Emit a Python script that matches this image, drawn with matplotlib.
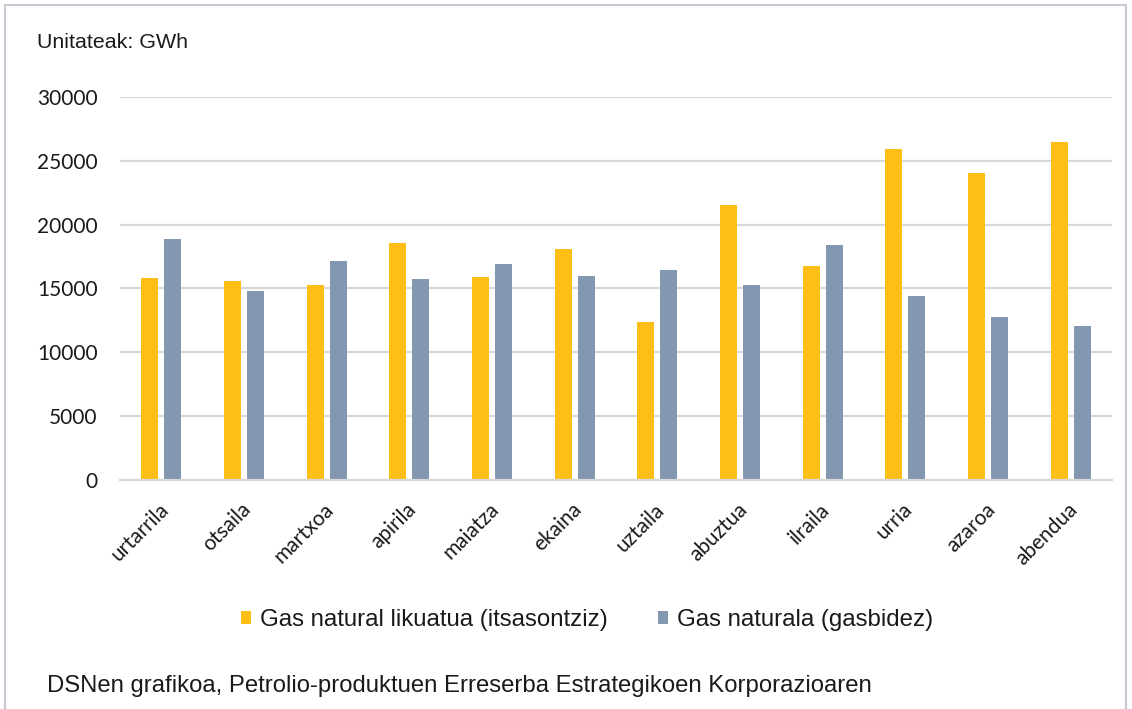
"""Monthly natural gas imports by route (GWh)."""

import matplotlib

matplotlib.use("Agg")
import matplotlib.pyplot as plt  # noqa: E402
import matplotlib.transforms as mtransforms  # noqa: E402
import numpy as np  # noqa: E402
from matplotlib.patches import Rectangle  # noqa: E402

MONTHS = [
    "urtarrila", "otsaila", "martxoa", "apirila", "maiatza", "ekaina",
    "uztaila", "abuztua", "ilraila", "urria", "azaroa", "abendua",
]
LNG_SHIP = [15800, 15600, 15300, 18600, 15900, 18100,
            12400, 21550, 16750, 25900, 24050, 26450]
PIPELINE = [18900, 14780, 17150, 15750, 16900, 15950,
            16450, 15250, 18370, 14450, 12800, 12050]
SERIES_LABELS = ["Gas natural likuatua (itsasontziz)", "Gas naturala (gasbidez)"]
Y_TICKS = [0, 5000, 10000, 15000, 20000, 25000, 30000]

ORANGE = "#FDBF17"
BLUE = "#8497B0"
GRID = "#D9D9D9"
TEXT = "#1a1a1a"
TICK_FONT = ["Lato", "DejaVu Sans"]

plt.rcParams["font.family"] = ["Liberation Sans", "DejaVu Sans"]

W, H = 1132, 709
fig = plt.figure(figsize=(W / 100, H / 100), dpi=100)
ax = fig.add_axes([120 / W, 1 - 480 / H, (1112 - 120) / W, (480 - 97) / H])

x = np.arange(len(MONTHS))
width = 0.205
offset = 0.139
ax.bar(x - offset, LNG_SHIP, width, color=ORANGE, label=SERIES_LABELS[0], zorder=3)
ax.bar(x + offset, PIPELINE, width, color=BLUE, label=SERIES_LABELS[1], zorder=3)

ax.set_xlim(-0.5, len(MONTHS) - 0.5)
ax.set_ylim(0, 30000)
ax.set_yticks(Y_TICKS)
ax.set_yticklabels([str(v) for v in Y_TICKS], fontsize=15, color=TEXT,
                   family=TICK_FONT)
ax.yaxis.grid(True, color=GRID, linewidth=1.6, zorder=0)
ax.set_axisbelow(True)
ax.tick_params(axis="y", length=0, pad=16)
ax.tick_params(axis="x", length=0, pad=19)
ax.set_xticks(x)
ax.set_xticklabels(MONTHS, rotation=45, ha="right", va="center",
                   rotation_mode="anchor", fontsize=15, color=TEXT,
                   family=TICK_FONT)
shift = mtransforms.ScaledTranslation(4 / 100, 0, fig.dpi_scale_trans)
for label in ax.get_xticklabels():
    label.set_transform(label.get_transform() + shift)
for side in ("top", "right", "left"):
    ax.spines[side].set_visible(False)
ax.spines["bottom"].set_color(GRID)
ax.spines["bottom"].set_linewidth(1.6)
ax.spines["bottom"].set_zorder(4)

fig.text(37 / W, 1 - 42 / H, "Unitateak: GWh", fontsize=15.4, color=TEXT, va="center")

fig.legend(loc="center", bbox_to_anchor=(587 / W, 1 - 620 / H), ncol=2,
           frameon=False, fontsize=17.3, handlelength=0.42, handleheight=0.5,
           handletextpad=0.35, columnspacing=2.1, labelcolor=TEXT,
           borderpad=0, borderaxespad=0)

fig.text(47 / W, 1 - 686 / H,
         "DSNen grafikoa, Petrolio-produktuen Erreserba Estrategikoen Korporazioaren",
         fontsize=17.2, color=TEXT, va="center")

fig.patches.append(Rectangle((5 / W, -0.1), (1126 - 5) / W, 1.1 - 5 / H,
                             transform=fig.transFigure, fill=False,
                             edgecolor="#C9C9D3", linewidth=1.5))

fig.savefig("out.png", dpi=100)
